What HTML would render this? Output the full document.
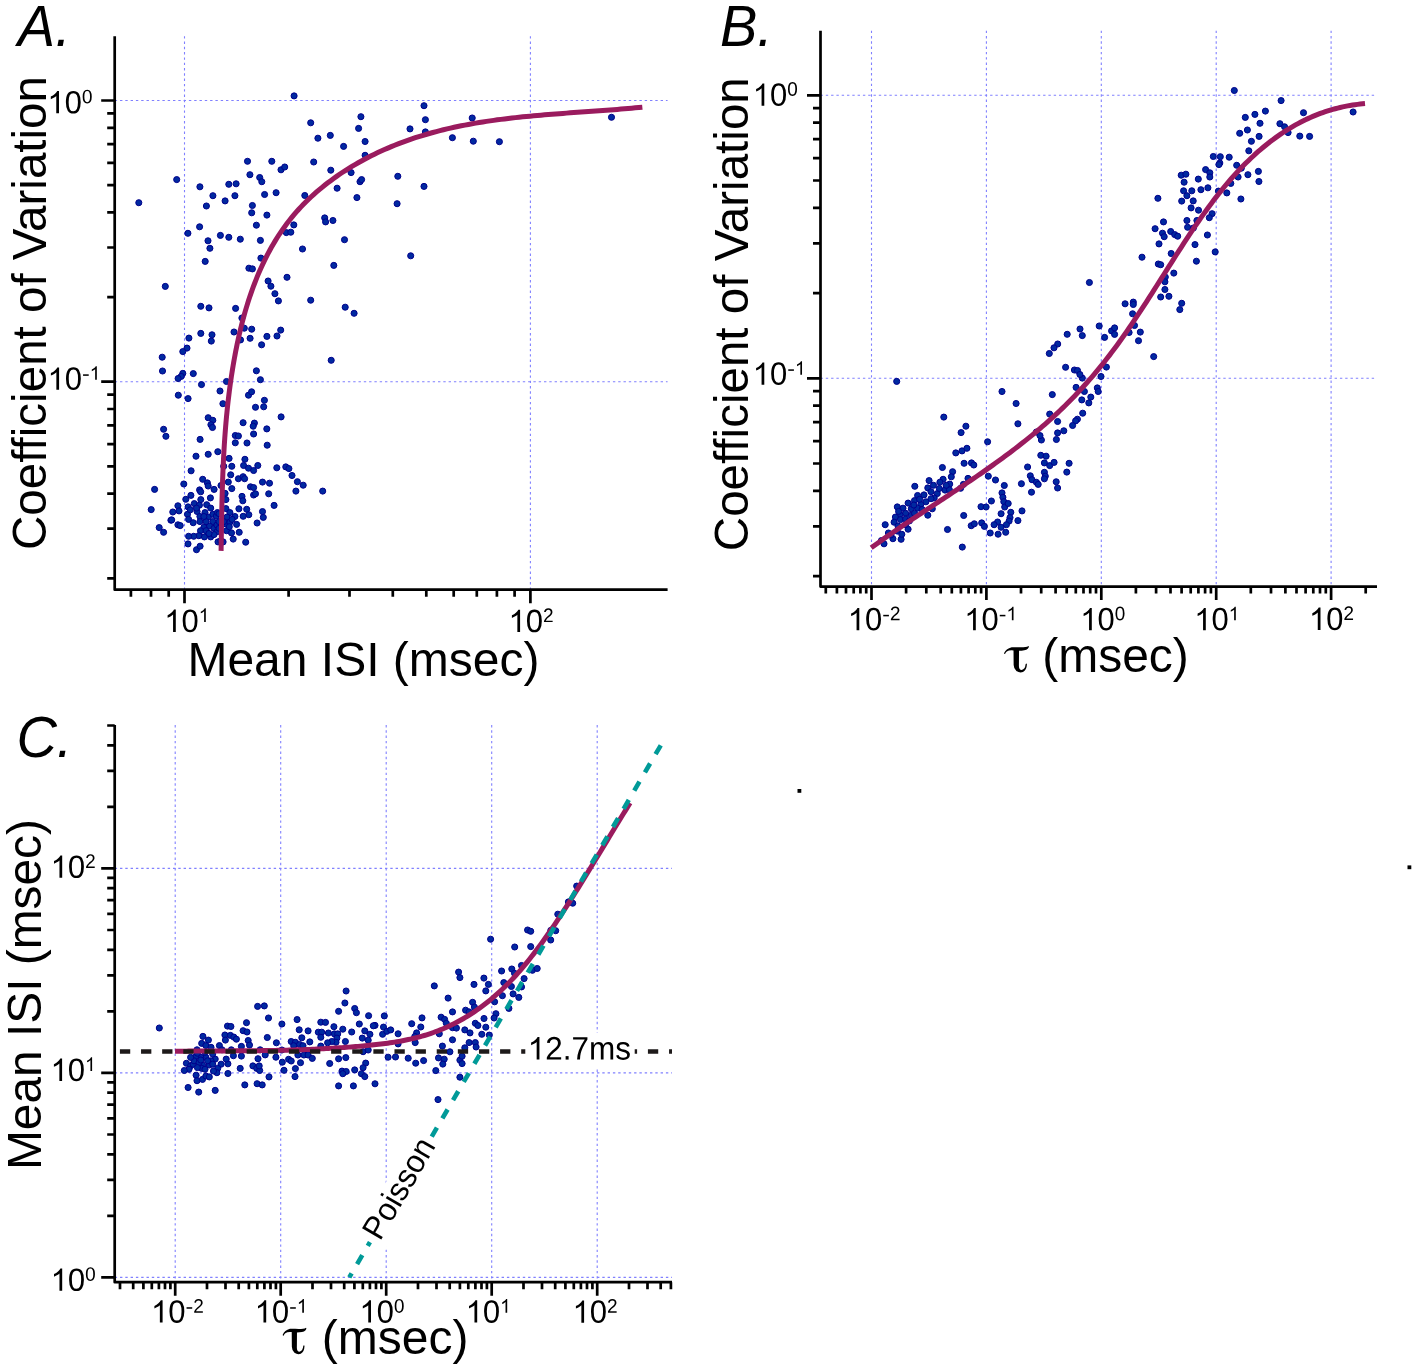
<!DOCTYPE html><html><head><meta charset="utf-8"><style>html,body{margin:0;padding:0;background:#fff;}svg{display:block}text{font-family:"Liberation Sans",sans-serif;fill:#000}svg{will-change:transform}</style></head><body>
<svg width="1417" height="1369" viewBox="0 0 1417 1369">
<rect width="1417" height="1369" fill="#fff"/>
<line x1="184.5" y1="36.2" x2="184.5" y2="589.7" stroke="#8080ff" stroke-width="1.1" stroke-dasharray="2.4 2.9"/>
<line x1="530.4" y1="36.2" x2="530.4" y2="589.7" stroke="#8080ff" stroke-width="1.1" stroke-dasharray="2.4 2.9"/>
<line x1="114.7" y1="100.5" x2="667.6" y2="100.5" stroke="#8080ff" stroke-width="1.1" stroke-dasharray="2.4 2.9"/>
<line x1="114.7" y1="381.7" x2="667.6" y2="381.7" stroke="#8080ff" stroke-width="1.1" stroke-dasharray="2.4 2.9"/>
<line x1="871.5" y1="30.7" x2="871.5" y2="586.6" stroke="#8080ff" stroke-width="1.1" stroke-dasharray="2.4 2.9"/>
<line x1="986.4" y1="30.7" x2="986.4" y2="586.6" stroke="#8080ff" stroke-width="1.1" stroke-dasharray="2.4 2.9"/>
<line x1="1101.3" y1="30.7" x2="1101.3" y2="586.6" stroke="#8080ff" stroke-width="1.1" stroke-dasharray="2.4 2.9"/>
<line x1="1216.2" y1="30.7" x2="1216.2" y2="586.6" stroke="#8080ff" stroke-width="1.1" stroke-dasharray="2.4 2.9"/>
<line x1="1331.1" y1="30.7" x2="1331.1" y2="586.6" stroke="#8080ff" stroke-width="1.1" stroke-dasharray="2.4 2.9"/>
<line x1="820.5" y1="95.3" x2="1377.0" y2="95.3" stroke="#8080ff" stroke-width="1.1" stroke-dasharray="2.4 2.9"/>
<line x1="820.5" y1="378.3" x2="1377.0" y2="378.3" stroke="#8080ff" stroke-width="1.1" stroke-dasharray="2.4 2.9"/>
<line x1="175.2" y1="725.0" x2="175.2" y2="1282.2" stroke="#8080ff" stroke-width="1.1" stroke-dasharray="2.4 2.9"/>
<line x1="280.7" y1="725.0" x2="280.7" y2="1282.2" stroke="#8080ff" stroke-width="1.1" stroke-dasharray="2.4 2.9"/>
<line x1="386.2" y1="725.0" x2="386.2" y2="1282.2" stroke="#8080ff" stroke-width="1.1" stroke-dasharray="2.4 2.9"/>
<line x1="491.7" y1="725.0" x2="491.7" y2="1282.2" stroke="#8080ff" stroke-width="1.1" stroke-dasharray="2.4 2.9"/>
<line x1="597.2" y1="725.0" x2="597.2" y2="1282.2" stroke="#8080ff" stroke-width="1.1" stroke-dasharray="2.4 2.9"/>
<line x1="114.7" y1="1277.4" x2="672.0" y2="1277.4" stroke="#8080ff" stroke-width="1.1" stroke-dasharray="2.4 2.9"/>
<line x1="114.7" y1="1072.9" x2="672.0" y2="1072.9" stroke="#8080ff" stroke-width="1.1" stroke-dasharray="2.4 2.9"/>
<line x1="114.7" y1="868.4" x2="672.0" y2="868.4" stroke="#8080ff" stroke-width="1.1" stroke-dasharray="2.4 2.9"/>
<g fill="#0029a0" stroke="#00008c" stroke-width="1.0">
<circle cx="294.1" cy="95.9" r="3.05"/>
<circle cx="424.0" cy="105.7" r="3.05"/>
<circle cx="425.4" cy="119.7" r="3.05"/>
<circle cx="360.9" cy="116.7" r="3.05"/>
<circle cx="310.7" cy="122.8" r="3.05"/>
<circle cx="358.6" cy="128.4" r="3.05"/>
<circle cx="410.0" cy="128.9" r="3.05"/>
<circle cx="425.4" cy="131.9" r="3.05"/>
<circle cx="317.9" cy="138.2" r="3.05"/>
<circle cx="330.3" cy="135.4" r="3.05"/>
<circle cx="343.6" cy="146.4" r="3.05"/>
<circle cx="365.1" cy="141.5" r="3.05"/>
<circle cx="365.1" cy="155.3" r="3.05"/>
<circle cx="247.5" cy="161.3" r="3.05"/>
<circle cx="271.8" cy="161.3" r="3.05"/>
<circle cx="281.0" cy="169.8" r="3.05"/>
<circle cx="284.7" cy="167.0" r="3.05"/>
<circle cx="313.7" cy="162.0" r="3.05"/>
<circle cx="330.8" cy="170.2" r="3.05"/>
<circle cx="351.1" cy="172.6" r="3.05"/>
<circle cx="397.8" cy="176.3" r="3.05"/>
<circle cx="176.7" cy="179.6" r="3.05"/>
<circle cx="249.9" cy="174.7" r="3.05"/>
<circle cx="259.7" cy="177.5" r="3.05"/>
<circle cx="261.8" cy="181.7" r="3.05"/>
<circle cx="360.0" cy="181.7" r="3.05"/>
<circle cx="361.6" cy="179.6" r="3.05"/>
<circle cx="424.0" cy="186.4" r="3.05"/>
<circle cx="199.9" cy="186.8" r="3.05"/>
<circle cx="228.8" cy="184.3" r="3.05"/>
<circle cx="236.1" cy="183.8" r="3.05"/>
<circle cx="212.9" cy="195.7" r="3.05"/>
<circle cx="234.9" cy="195.7" r="3.05"/>
<circle cx="225.1" cy="200.9" r="3.05"/>
<circle cx="264.6" cy="194.5" r="3.05"/>
<circle cx="276.1" cy="192.7" r="3.05"/>
<circle cx="304.8" cy="195.5" r="3.05"/>
<circle cx="337.1" cy="188.2" r="3.05"/>
<circle cx="356.9" cy="197.6" r="3.05"/>
<circle cx="397.1" cy="203.7" r="3.05"/>
<circle cx="138.8" cy="202.7" r="3.05"/>
<circle cx="206.4" cy="206.0" r="3.05"/>
<circle cx="252.4" cy="205.5" r="3.05"/>
<circle cx="251.7" cy="212.8" r="3.05"/>
<circle cx="266.9" cy="215.1" r="3.05"/>
<circle cx="324.7" cy="217.9" r="3.05"/>
<circle cx="325.6" cy="221.9" r="3.05"/>
<circle cx="332.9" cy="220.5" r="3.05"/>
<circle cx="256.4" cy="225.2" r="3.05"/>
<circle cx="293.8" cy="224.9" r="3.05"/>
<circle cx="286.3" cy="232.6" r="3.05"/>
<circle cx="290.8" cy="232.2" r="3.05"/>
<circle cx="187.9" cy="233.3" r="3.05"/>
<circle cx="199.6" cy="226.8" r="3.05"/>
<circle cx="220.4" cy="235.4" r="3.05"/>
<circle cx="228.8" cy="237.3" r="3.05"/>
<circle cx="240.3" cy="239.2" r="3.05"/>
<circle cx="208.0" cy="240.8" r="3.05"/>
<circle cx="260.4" cy="240.4" r="3.05"/>
<circle cx="344.5" cy="239.7" r="3.05"/>
<circle cx="209.9" cy="248.3" r="3.05"/>
<circle cx="302.5" cy="249.0" r="3.05"/>
<circle cx="410.7" cy="255.8" r="3.05"/>
<circle cx="205.2" cy="261.4" r="3.05"/>
<circle cx="260.9" cy="258.1" r="3.05"/>
<circle cx="248.9" cy="268.2" r="3.05"/>
<circle cx="252.4" cy="268.9" r="3.05"/>
<circle cx="333.8" cy="265.4" r="3.05"/>
<circle cx="287.0" cy="277.3" r="3.05"/>
<circle cx="165.3" cy="286.4" r="3.05"/>
<circle cx="268.1" cy="281.0" r="3.05"/>
<circle cx="270.9" cy="286.2" r="3.05"/>
<circle cx="274.9" cy="293.7" r="3.05"/>
<circle cx="278.4" cy="300.9" r="3.05"/>
<circle cx="310.7" cy="300.2" r="3.05"/>
<circle cx="345.2" cy="307.2" r="3.05"/>
<circle cx="354.1" cy="313.3" r="3.05"/>
<circle cx="200.8" cy="306.3" r="3.05"/>
<circle cx="209.0" cy="307.9" r="3.05"/>
<circle cx="235.6" cy="308.4" r="3.05"/>
<circle cx="241.9" cy="318.0" r="3.05"/>
<circle cx="244.3" cy="328.2" r="3.05"/>
<circle cx="251.7" cy="329.2" r="3.05"/>
<circle cx="234.0" cy="332.0" r="3.05"/>
<circle cx="240.5" cy="339.9" r="3.05"/>
<circle cx="250.1" cy="338.3" r="3.05"/>
<circle cx="200.8" cy="333.4" r="3.05"/>
<circle cx="212.0" cy="334.8" r="3.05"/>
<circle cx="211.3" cy="341.1" r="3.05"/>
<circle cx="188.9" cy="338.1" r="3.05"/>
<circle cx="187.0" cy="348.1" r="3.05"/>
<circle cx="182.8" cy="351.6" r="3.05"/>
<circle cx="266.9" cy="336.4" r="3.05"/>
<circle cx="277.0" cy="336.0" r="3.05"/>
<circle cx="280.7" cy="330.1" r="3.05"/>
<circle cx="261.6" cy="344.8" r="3.05"/>
<circle cx="331.2" cy="360.3" r="3.05"/>
<circle cx="162.2" cy="357.2" r="3.05"/>
<circle cx="162.5" cy="371.0" r="3.05"/>
<circle cx="182.8" cy="373.4" r="3.05"/>
<circle cx="181.2" cy="376.4" r="3.05"/>
<circle cx="178.1" cy="378.5" r="3.05"/>
<circle cx="193.3" cy="373.6" r="3.05"/>
<circle cx="256.4" cy="370.8" r="3.05"/>
<circle cx="260.4" cy="379.7" r="3.05"/>
<circle cx="472.2" cy="118.0" r="3.05"/>
<circle cx="452.4" cy="137.7" r="3.05"/>
<circle cx="473.3" cy="141.2" r="3.05"/>
<circle cx="499.4" cy="141.7" r="3.05"/>
<circle cx="611.5" cy="117.3" r="3.05"/>
<circle cx="226.5" cy="381.5" r="3.05"/>
<circle cx="201.5" cy="384.6" r="3.05"/>
<circle cx="178.3" cy="395.2" r="3.05"/>
<circle cx="188.1" cy="398.6" r="3.05"/>
<circle cx="220.0" cy="391.0" r="3.05"/>
<circle cx="222.9" cy="403.7" r="3.05"/>
<circle cx="248.5" cy="395.2" r="3.05"/>
<circle cx="251.6" cy="391.8" r="3.05"/>
<circle cx="264.4" cy="400.3" r="3.05"/>
<circle cx="263.7" cy="406.8" r="3.05"/>
<circle cx="255.5" cy="407.3" r="3.05"/>
<circle cx="281.1" cy="416.9" r="3.05"/>
<circle cx="208.2" cy="417.7" r="3.05"/>
<circle cx="212.8" cy="420.3" r="3.05"/>
<circle cx="210.9" cy="424.7" r="3.05"/>
<circle cx="212.5" cy="427.5" r="3.05"/>
<circle cx="243.1" cy="422.7" r="3.05"/>
<circle cx="254.4" cy="423.1" r="3.05"/>
<circle cx="253.2" cy="426.2" r="3.05"/>
<circle cx="266.8" cy="428.9" r="3.05"/>
<circle cx="253.6" cy="434.0" r="3.05"/>
<circle cx="163.6" cy="429.3" r="3.05"/>
<circle cx="165.9" cy="436.3" r="3.05"/>
<circle cx="200.1" cy="439.4" r="3.05"/>
<circle cx="235.3" cy="435.5" r="3.05"/>
<circle cx="238.4" cy="436.0" r="3.05"/>
<circle cx="235.3" cy="442.8" r="3.05"/>
<circle cx="247.0" cy="443.0" r="3.05"/>
<circle cx="267.2" cy="445.2" r="3.05"/>
<circle cx="217.8" cy="451.7" r="3.05"/>
<circle cx="208.2" cy="454.3" r="3.05"/>
<circle cx="196.0" cy="456.2" r="3.05"/>
<circle cx="229.1" cy="458.4" r="3.05"/>
<circle cx="244.9" cy="459.3" r="3.05"/>
<circle cx="223.7" cy="466.3" r="3.05"/>
<circle cx="231.8" cy="466.3" r="3.05"/>
<circle cx="243.6" cy="465.5" r="3.05"/>
<circle cx="248.5" cy="468.2" r="3.05"/>
<circle cx="253.6" cy="470.5" r="3.05"/>
<circle cx="257.8" cy="465.5" r="3.05"/>
<circle cx="276.8" cy="467.8" r="3.05"/>
<circle cx="285.8" cy="466.9" r="3.05"/>
<circle cx="288.9" cy="468.6" r="3.05"/>
<circle cx="292.0" cy="475.5" r="3.05"/>
<circle cx="297.4" cy="481.7" r="3.05"/>
<circle cx="303.2" cy="485.2" r="3.05"/>
<circle cx="295.9" cy="491.1" r="3.05"/>
<circle cx="322.7" cy="491.1" r="3.05"/>
<circle cx="191.1" cy="470.8" r="3.05"/>
<circle cx="230.7" cy="474.8" r="3.05"/>
<circle cx="238.4" cy="478.7" r="3.05"/>
<circle cx="243.1" cy="476.7" r="3.05"/>
<circle cx="244.6" cy="478.7" r="3.05"/>
<circle cx="228.3" cy="482.1" r="3.05"/>
<circle cx="202.7" cy="479.3" r="3.05"/>
<circle cx="207.4" cy="482.9" r="3.05"/>
<circle cx="208.2" cy="486.0" r="3.05"/>
<circle cx="214.1" cy="489.4" r="3.05"/>
<circle cx="183.8" cy="484.0" r="3.05"/>
<circle cx="231.8" cy="488.6" r="3.05"/>
<circle cx="250.5" cy="486.8" r="3.05"/>
<circle cx="253.6" cy="487.6" r="3.05"/>
<circle cx="262.5" cy="482.1" r="3.05"/>
<circle cx="269.5" cy="483.2" r="3.05"/>
<circle cx="268.7" cy="493.8" r="3.05"/>
<circle cx="253.6" cy="495.0" r="3.05"/>
<circle cx="255.5" cy="493.8" r="3.05"/>
<circle cx="242.0" cy="496.4" r="3.05"/>
<circle cx="242.8" cy="500.8" r="3.05"/>
<circle cx="154.6" cy="489.4" r="3.05"/>
<circle cx="199.6" cy="489.9" r="3.05"/>
<circle cx="200.7" cy="491.8" r="3.05"/>
<circle cx="221.0" cy="485.5" r="3.05"/>
<circle cx="274.1" cy="505.4" r="3.05"/>
<circle cx="238.9" cy="508.8" r="3.05"/>
<circle cx="246.7" cy="509.3" r="3.05"/>
<circle cx="248.8" cy="514.7" r="3.05"/>
<circle cx="243.2" cy="516.3" r="3.05"/>
<circle cx="262.5" cy="511.6" r="3.05"/>
<circle cx="263.3" cy="517.4" r="3.05"/>
<circle cx="257.1" cy="523.0" r="3.05"/>
<circle cx="245.7" cy="542.2" r="3.05"/>
<circle cx="239.2" cy="532.3" r="3.05"/>
<circle cx="151.2" cy="509.6" r="3.05"/>
<circle cx="170.9" cy="520.2" r="3.05"/>
<circle cx="159.2" cy="527.6" r="3.05"/>
<circle cx="163.6" cy="532.3" r="3.05"/>
<circle cx="177.9" cy="524.8" r="3.05"/>
<circle cx="180.2" cy="525.6" r="3.05"/>
<circle cx="188.0" cy="543.9" r="3.05"/>
<circle cx="196.5" cy="549.7" r="3.05"/>
<circle cx="200.1" cy="546.2" r="3.05"/>
<circle cx="190.9" cy="495.4" r="3.05"/>
<circle cx="185.8" cy="499.3" r="3.05"/>
<circle cx="200.8" cy="499.6" r="3.05"/>
<circle cx="210.4" cy="497.9" r="3.05"/>
<circle cx="225.1" cy="493.4" r="3.05"/>
<circle cx="225.9" cy="499.6" r="3.05"/>
<circle cx="177.9" cy="505.8" r="3.05"/>
<circle cx="179.0" cy="510.9" r="3.05"/>
<circle cx="172.8" cy="512.0" r="3.05"/>
<circle cx="171.7" cy="519.9" r="3.05"/>
<circle cx="188.1" cy="506.9" r="3.05"/>
<circle cx="194.3" cy="503.6" r="3.05"/>
<circle cx="199.4" cy="505.2" r="3.05"/>
<circle cx="206.7" cy="504.7" r="3.05"/>
<circle cx="210.7" cy="508.1" r="3.05"/>
<circle cx="187.5" cy="514.3" r="3.05"/>
<circle cx="188.6" cy="519.4" r="3.05"/>
<circle cx="193.2" cy="522.7" r="3.05"/>
<circle cx="197.1" cy="511.5" r="3.05"/>
<circle cx="199.9" cy="516.5" r="3.05"/>
<circle cx="199.9" cy="521.6" r="3.05"/>
<circle cx="205.0" cy="512.6" r="3.05"/>
<circle cx="208.4" cy="517.1" r="3.05"/>
<circle cx="212.9" cy="514.3" r="3.05"/>
<circle cx="216.3" cy="516.0" r="3.05"/>
<circle cx="217.4" cy="512.6" r="3.05"/>
<circle cx="212.9" cy="521.6" r="3.05"/>
<circle cx="209.5" cy="526.1" r="3.05"/>
<circle cx="203.9" cy="527.3" r="3.05"/>
<circle cx="200.5" cy="530.7" r="3.05"/>
<circle cx="206.1" cy="530.7" r="3.05"/>
<circle cx="214.0" cy="528.4" r="3.05"/>
<circle cx="216.9" cy="525.0" r="3.05"/>
<circle cx="216.9" cy="531.8" r="3.05"/>
<circle cx="210.7" cy="536.9" r="3.05"/>
<circle cx="204.4" cy="536.9" r="3.05"/>
<circle cx="198.8" cy="535.7" r="3.05"/>
<circle cx="193.7" cy="536.3" r="3.05"/>
<circle cx="188.6" cy="536.3" r="3.05"/>
<circle cx="218.0" cy="541.9" r="3.05"/>
<circle cx="223.1" cy="541.9" r="3.05"/>
<circle cx="225.9" cy="508.6" r="3.05"/>
<circle cx="229.9" cy="512.6" r="3.05"/>
<circle cx="234.9" cy="516.5" r="3.05"/>
<circle cx="227.0" cy="517.1" r="3.05"/>
<circle cx="225.9" cy="523.9" r="3.05"/>
<circle cx="236.6" cy="524.4" r="3.05"/>
<circle cx="229.9" cy="522.2" r="3.05"/>
<circle cx="226.5" cy="530.7" r="3.05"/>
<circle cx="231.5" cy="532.9" r="3.05"/>
<circle cx="233.2" cy="539.1" r="3.05"/>
<circle cx="219.1" cy="513.7" r="3.05"/>
<circle cx="219.1" cy="521.6" r="3.05"/>
<circle cx="219.1" cy="528.4" r="3.05"/>
<circle cx="220.8" cy="540.8" r="3.05"/>
<circle cx="190.3" cy="509.8" r="3.05"/>
<circle cx="206.1" cy="521.6" r="3.05"/>
<circle cx="203.9" cy="516.5" r="3.05"/>
<circle cx="232.1" cy="519.4" r="3.05"/>
<circle cx="229.3" cy="526.7" r="3.05"/>
<circle cx="214.0" cy="534.6" r="3.05"/>
<circle cx="209.0" cy="533.5" r="3.05"/>
<circle cx="196.5" cy="508.1" r="3.05"/>
<circle cx="223.6" cy="521.6" r="3.05"/>
<circle cx="1234.3" cy="90.5" r="3.05"/>
<circle cx="1281.1" cy="100.6" r="3.05"/>
<circle cx="1265.4" cy="111.1" r="3.05"/>
<circle cx="1254.9" cy="114.4" r="3.05"/>
<circle cx="1245.3" cy="117.4" r="3.05"/>
<circle cx="1260.0" cy="123.3" r="3.05"/>
<circle cx="1303.5" cy="112.7" r="3.05"/>
<circle cx="1353.1" cy="112.0" r="3.05"/>
<circle cx="1279.9" cy="123.7" r="3.05"/>
<circle cx="1284.6" cy="126.8" r="3.05"/>
<circle cx="1288.1" cy="132.6" r="3.05"/>
<circle cx="1299.8" cy="136.1" r="3.05"/>
<circle cx="1309.6" cy="136.4" r="3.05"/>
<circle cx="1247.4" cy="130.0" r="3.05"/>
<circle cx="1239.7" cy="133.3" r="3.05"/>
<circle cx="1259.1" cy="136.4" r="3.05"/>
<circle cx="1251.4" cy="141.3" r="3.05"/>
<circle cx="1248.8" cy="150.8" r="3.05"/>
<circle cx="1213.3" cy="156.5" r="3.05"/>
<circle cx="1220.3" cy="156.7" r="3.05"/>
<circle cx="1229.2" cy="157.2" r="3.05"/>
<circle cx="1219.8" cy="163.0" r="3.05"/>
<circle cx="1218.9" cy="164.6" r="3.05"/>
<circle cx="1236.7" cy="165.3" r="3.05"/>
<circle cx="1241.3" cy="168.2" r="3.05"/>
<circle cx="1258.4" cy="171.4" r="3.05"/>
<circle cx="1247.9" cy="174.7" r="3.05"/>
<circle cx="1258.9" cy="181.5" r="3.05"/>
<circle cx="1238.1" cy="177.0" r="3.05"/>
<circle cx="1205.6" cy="169.6" r="3.05"/>
<circle cx="1209.8" cy="172.8" r="3.05"/>
<circle cx="1209.8" cy="177.0" r="3.05"/>
<circle cx="1181.2" cy="175.2" r="3.05"/>
<circle cx="1185.9" cy="174.2" r="3.05"/>
<circle cx="1184.1" cy="182.2" r="3.05"/>
<circle cx="1198.3" cy="179.1" r="3.05"/>
<circle cx="1207.9" cy="187.8" r="3.05"/>
<circle cx="1200.9" cy="189.7" r="3.05"/>
<circle cx="1191.8" cy="190.8" r="3.05"/>
<circle cx="1183.6" cy="190.8" r="3.05"/>
<circle cx="1186.9" cy="195.7" r="3.05"/>
<circle cx="1181.7" cy="201.1" r="3.05"/>
<circle cx="1193.2" cy="200.9" r="3.05"/>
<circle cx="1157.9" cy="198.3" r="3.05"/>
<circle cx="1218.4" cy="191.1" r="3.05"/>
<circle cx="1226.8" cy="192.9" r="3.05"/>
<circle cx="1230.8" cy="183.4" r="3.05"/>
<circle cx="1240.9" cy="199.0" r="3.05"/>
<circle cx="1191.1" cy="207.9" r="3.05"/>
<circle cx="1198.5" cy="210.2" r="3.05"/>
<circle cx="1212.1" cy="213.7" r="3.05"/>
<circle cx="1209.3" cy="217.7" r="3.05"/>
<circle cx="1186.9" cy="220.5" r="3.05"/>
<circle cx="1196.9" cy="220.5" r="3.05"/>
<circle cx="1187.6" cy="227.3" r="3.05"/>
<circle cx="1193.4" cy="228.0" r="3.05"/>
<circle cx="1163.5" cy="221.9" r="3.05"/>
<circle cx="1155.1" cy="228.7" r="3.05"/>
<circle cx="1162.5" cy="233.2" r="3.05"/>
<circle cx="1164.2" cy="236.7" r="3.05"/>
<circle cx="1170.7" cy="231.5" r="3.05"/>
<circle cx="1174.7" cy="234.6" r="3.05"/>
<circle cx="1177.7" cy="236.2" r="3.05"/>
<circle cx="1207.4" cy="235.0" r="3.05"/>
<circle cx="1159.0" cy="243.9" r="3.05"/>
<circle cx="1195.0" cy="244.6" r="3.05"/>
<circle cx="1215.2" cy="251.9" r="3.05"/>
<circle cx="1142.0" cy="257.2" r="3.05"/>
<circle cx="1171.2" cy="253.5" r="3.05"/>
<circle cx="1196.4" cy="261.2" r="3.05"/>
<circle cx="1158.3" cy="264.0" r="3.05"/>
<circle cx="1160.7" cy="264.7" r="3.05"/>
<circle cx="1173.8" cy="273.1" r="3.05"/>
<circle cx="1165.3" cy="277.1" r="3.05"/>
<circle cx="1164.9" cy="281.8" r="3.05"/>
<circle cx="1164.9" cy="289.5" r="3.05"/>
<circle cx="1160.7" cy="297.0" r="3.05"/>
<circle cx="1168.9" cy="296.3" r="3.05"/>
<circle cx="1181.7" cy="303.3" r="3.05"/>
<circle cx="1179.8" cy="309.6" r="3.05"/>
<circle cx="1089.4" cy="282.5" r="3.05"/>
<circle cx="1125.1" cy="303.8" r="3.05"/>
<circle cx="1133.3" cy="302.1" r="3.05"/>
<circle cx="1133.3" cy="304.5" r="3.05"/>
<circle cx="1132.6" cy="313.8" r="3.05"/>
<circle cx="1134.5" cy="325.5" r="3.05"/>
<circle cx="1140.3" cy="332.1" r="3.05"/>
<circle cx="1138.5" cy="340.7" r="3.05"/>
<circle cx="1129.1" cy="332.5" r="3.05"/>
<circle cx="1099.2" cy="326.0" r="3.05"/>
<circle cx="1111.6" cy="330.9" r="3.05"/>
<circle cx="1114.6" cy="327.9" r="3.05"/>
<circle cx="1114.6" cy="334.4" r="3.05"/>
<circle cx="1104.6" cy="337.4" r="3.05"/>
<circle cx="1153.7" cy="356.6" r="3.05"/>
<circle cx="1080.0" cy="329.0" r="3.05"/>
<circle cx="1082.3" cy="335.6" r="3.05"/>
<circle cx="1106.4" cy="367.1" r="3.05"/>
<circle cx="1101.0" cy="376.5" r="3.05"/>
<circle cx="1082.3" cy="378.1" r="3.05"/>
<circle cx="896.7" cy="381.4" r="3.05"/>
<circle cx="1002.0" cy="391.5" r="3.05"/>
<circle cx="1016.1" cy="403.5" r="3.05"/>
<circle cx="1017.9" cy="423.8" r="3.05"/>
<circle cx="1052.3" cy="394.6" r="3.05"/>
<circle cx="1076.1" cy="387.4" r="3.05"/>
<circle cx="1084.4" cy="391.5" r="3.05"/>
<circle cx="1097.3" cy="387.9" r="3.05"/>
<circle cx="1098.2" cy="391.5" r="3.05"/>
<circle cx="1090.8" cy="397.1" r="3.05"/>
<circle cx="1081.8" cy="399.9" r="3.05"/>
<circle cx="1088.8" cy="402.9" r="3.05"/>
<circle cx="1082.7" cy="413.2" r="3.05"/>
<circle cx="1049.7" cy="414.1" r="3.05"/>
<circle cx="1057.6" cy="421.5" r="3.05"/>
<circle cx="1077.4" cy="419.2" r="3.05"/>
<circle cx="1075.6" cy="420.9" r="3.05"/>
<circle cx="1072.6" cy="425.5" r="3.05"/>
<circle cx="1063.8" cy="430.8" r="3.05"/>
<circle cx="1057.6" cy="432.9" r="3.05"/>
<circle cx="1056.4" cy="439.5" r="3.05"/>
<circle cx="1036.4" cy="432.0" r="3.05"/>
<circle cx="1041.4" cy="440.0" r="3.05"/>
<circle cx="1040.0" cy="435.6" r="3.05"/>
<circle cx="987.6" cy="441.8" r="3.05"/>
<circle cx="943.8" cy="417.1" r="3.05"/>
<circle cx="965.9" cy="426.2" r="3.05"/>
<circle cx="961.1" cy="432.6" r="3.05"/>
<circle cx="955.8" cy="452.9" r="3.05"/>
<circle cx="962.0" cy="450.9" r="3.05"/>
<circle cx="966.9" cy="448.3" r="3.05"/>
<circle cx="964.1" cy="463.3" r="3.05"/>
<circle cx="971.5" cy="462.9" r="3.05"/>
<circle cx="973.8" cy="465.0" r="3.05"/>
<circle cx="968.0" cy="478.4" r="3.05"/>
<circle cx="963.4" cy="484.4" r="3.05"/>
<circle cx="960.6" cy="488.3" r="3.05"/>
<circle cx="963.7" cy="515.5" r="3.05"/>
<circle cx="962.3" cy="547.1" r="3.05"/>
<circle cx="971.2" cy="525.7" r="3.05"/>
<circle cx="974.3" cy="523.8" r="3.05"/>
<circle cx="981.7" cy="522.9" r="3.05"/>
<circle cx="984.4" cy="526.4" r="3.05"/>
<circle cx="981.0" cy="506.7" r="3.05"/>
<circle cx="986.1" cy="507.0" r="3.05"/>
<circle cx="988.3" cy="476.2" r="3.05"/>
<circle cx="995.5" cy="480.0" r="3.05"/>
<circle cx="1004.3" cy="485.5" r="3.05"/>
<circle cx="991.4" cy="501.0" r="3.05"/>
<circle cx="1002.0" cy="492.9" r="3.05"/>
<circle cx="1002.9" cy="497.3" r="3.05"/>
<circle cx="1003.8" cy="501.7" r="3.05"/>
<circle cx="1004.7" cy="507.0" r="3.05"/>
<circle cx="1008.2" cy="503.5" r="3.05"/>
<circle cx="1001.1" cy="513.7" r="3.05"/>
<circle cx="1010.8" cy="512.3" r="3.05"/>
<circle cx="1010.0" cy="517.6" r="3.05"/>
<circle cx="1009.1" cy="521.1" r="3.05"/>
<circle cx="1006.4" cy="524.7" r="3.05"/>
<circle cx="997.6" cy="522.0" r="3.05"/>
<circle cx="994.1" cy="524.7" r="3.05"/>
<circle cx="1017.9" cy="520.6" r="3.05"/>
<circle cx="1022.0" cy="510.9" r="3.05"/>
<circle cx="990.2" cy="533.0" r="3.05"/>
<circle cx="998.1" cy="534.2" r="3.05"/>
<circle cx="1005.7" cy="532.3" r="3.05"/>
<circle cx="1001.1" cy="527.3" r="3.05"/>
<circle cx="1021.4" cy="483.7" r="3.05"/>
<circle cx="1027.6" cy="467.0" r="3.05"/>
<circle cx="1030.3" cy="475.8" r="3.05"/>
<circle cx="1032.0" cy="479.7" r="3.05"/>
<circle cx="1036.4" cy="482.3" r="3.05"/>
<circle cx="1038.2" cy="484.4" r="3.05"/>
<circle cx="1031.5" cy="492.2" r="3.05"/>
<circle cx="1040.8" cy="455.3" r="3.05"/>
<circle cx="1046.1" cy="456.2" r="3.05"/>
<circle cx="1044.4" cy="462.9" r="3.05"/>
<circle cx="1049.7" cy="465.6" r="3.05"/>
<circle cx="1054.1" cy="462.4" r="3.05"/>
<circle cx="1044.4" cy="472.3" r="3.05"/>
<circle cx="1045.3" cy="476.2" r="3.05"/>
<circle cx="1044.4" cy="478.8" r="3.05"/>
<circle cx="1056.2" cy="481.8" r="3.05"/>
<circle cx="1057.6" cy="488.0" r="3.05"/>
<circle cx="1069.1" cy="463.3" r="3.05"/>
<circle cx="1066.8" cy="472.1" r="3.05"/>
<circle cx="942.4" cy="467.5" r="3.05"/>
<circle cx="952.6" cy="471.7" r="3.05"/>
<circle cx="951.3" cy="476.8" r="3.05"/>
<circle cx="943.1" cy="479.3" r="3.05"/>
<circle cx="939.9" cy="482.2" r="3.05"/>
<circle cx="929.1" cy="480.6" r="3.05"/>
<circle cx="949.7" cy="484.1" r="3.05"/>
<circle cx="945.0" cy="490.1" r="3.05"/>
<circle cx="949.4" cy="489.8" r="3.05"/>
<circle cx="933.5" cy="485.3" r="3.05"/>
<circle cx="927.8" cy="487.9" r="3.05"/>
<circle cx="937.3" cy="493.6" r="3.05"/>
<circle cx="934.2" cy="498.0" r="3.05"/>
<circle cx="931.0" cy="491.7" r="3.05"/>
<circle cx="914.8" cy="486.3" r="3.05"/>
<circle cx="917.6" cy="495.5" r="3.05"/>
<circle cx="924.0" cy="494.9" r="3.05"/>
<circle cx="925.9" cy="501.8" r="3.05"/>
<circle cx="920.8" cy="504.4" r="3.05"/>
<circle cx="914.5" cy="500.6" r="3.05"/>
<circle cx="908.1" cy="503.1" r="3.05"/>
<circle cx="897.3" cy="506.9" r="3.05"/>
<circle cx="903.0" cy="508.2" r="3.05"/>
<circle cx="911.3" cy="508.8" r="3.05"/>
<circle cx="917.6" cy="508.2" r="3.05"/>
<circle cx="905.6" cy="513.3" r="3.05"/>
<circle cx="911.3" cy="515.2" r="3.05"/>
<circle cx="899.9" cy="514.6" r="3.05"/>
<circle cx="895.4" cy="517.1" r="3.05"/>
<circle cx="894.1" cy="522.2" r="3.05"/>
<circle cx="900.5" cy="519.6" r="3.05"/>
<circle cx="905.6" cy="519.0" r="3.05"/>
<circle cx="914.5" cy="513.3" r="3.05"/>
<circle cx="932.3" cy="508.8" r="3.05"/>
<circle cx="927.8" cy="515.2" r="3.05"/>
<circle cx="885.2" cy="524.7" r="3.05"/>
<circle cx="898.0" cy="526.0" r="3.05"/>
<circle cx="908.1" cy="529.2" r="3.05"/>
<circle cx="897.3" cy="531.1" r="3.05"/>
<circle cx="888.4" cy="533.0" r="3.05"/>
<circle cx="892.9" cy="538.7" r="3.05"/>
<circle cx="901.1" cy="539.3" r="3.05"/>
<circle cx="901.8" cy="534.3" r="3.05"/>
<circle cx="881.4" cy="540.6" r="3.05"/>
<circle cx="884.0" cy="543.8" r="3.05"/>
<circle cx="947.5" cy="529.5" r="3.05"/>
<circle cx="891.0" cy="534.9" r="3.05"/>
<circle cx="905.6" cy="524.7" r="3.05"/>
<circle cx="919.6" cy="499.3" r="3.05"/>
<circle cx="913.8" cy="505.0" r="3.05"/>
<circle cx="931.0" cy="498.7" r="3.05"/>
<circle cx="939.3" cy="488.5" r="3.05"/>
<circle cx="946.2" cy="485.3" r="3.05"/>
<circle cx="898.6" cy="511.4" r="3.05"/>
<circle cx="922.1" cy="509.5" r="3.05"/>
<circle cx="909.4" cy="520.9" r="3.05"/>
<circle cx="1067.2" cy="334.3" r="3.05"/>
<circle cx="1057.7" cy="344.0" r="3.05"/>
<circle cx="1054.0" cy="347.8" r="3.05"/>
<circle cx="1049.3" cy="353.5" r="3.05"/>
<circle cx="1065.6" cy="367.3" r="3.05"/>
<circle cx="1074.4" cy="370.0" r="3.05"/>
<circle cx="1077.5" cy="370.5" r="3.05"/>
<circle cx="1079.9" cy="374.5" r="3.05"/>
<circle cx="159.3" cy="1028.0" r="3.05"/>
<circle cx="202.9" cy="1036.4" r="3.05"/>
<circle cx="208.4" cy="1040.1" r="3.05"/>
<circle cx="201.7" cy="1043.4" r="3.05"/>
<circle cx="205.9" cy="1045.6" r="3.05"/>
<circle cx="211.0" cy="1047.3" r="3.05"/>
<circle cx="219.4" cy="1045.6" r="3.05"/>
<circle cx="197.0" cy="1049.8" r="3.05"/>
<circle cx="224.9" cy="1035.0" r="3.05"/>
<circle cx="227.5" cy="1026.1" r="3.05"/>
<circle cx="230.9" cy="1026.5" r="3.05"/>
<circle cx="225.4" cy="1040.1" r="3.05"/>
<circle cx="230.4" cy="1035.4" r="3.05"/>
<circle cx="233.8" cy="1037.1" r="3.05"/>
<circle cx="236.4" cy="1039.2" r="3.05"/>
<circle cx="246.5" cy="1022.7" r="3.05"/>
<circle cx="243.1" cy="1030.7" r="3.05"/>
<circle cx="247.0" cy="1032.0" r="3.05"/>
<circle cx="248.2" cy="1040.5" r="3.05"/>
<circle cx="249.5" cy="1045.1" r="3.05"/>
<circle cx="241.4" cy="1046.4" r="3.05"/>
<circle cx="241.4" cy="1056.1" r="3.05"/>
<circle cx="233.4" cy="1055.7" r="3.05"/>
<circle cx="231.3" cy="1049.8" r="3.05"/>
<circle cx="268.5" cy="1018.0" r="3.05"/>
<circle cx="267.3" cy="1037.5" r="3.05"/>
<circle cx="260.1" cy="1049.8" r="3.05"/>
<circle cx="265.2" cy="1054.9" r="3.05"/>
<circle cx="258.0" cy="1058.7" r="3.05"/>
<circle cx="252.9" cy="1065.9" r="3.05"/>
<circle cx="256.7" cy="1068.4" r="3.05"/>
<circle cx="259.7" cy="1070.5" r="3.05"/>
<circle cx="259.2" cy="1065.9" r="3.05"/>
<circle cx="240.2" cy="1068.4" r="3.05"/>
<circle cx="269.0" cy="1076.9" r="3.05"/>
<circle cx="244.8" cy="1084.9" r="3.05"/>
<circle cx="257.1" cy="1083.7" r="3.05"/>
<circle cx="262.2" cy="1084.9" r="3.05"/>
<circle cx="227.9" cy="1073.5" r="3.05"/>
<circle cx="227.9" cy="1063.8" r="3.05"/>
<circle cx="226.2" cy="1059.1" r="3.05"/>
<circle cx="221.1" cy="1064.2" r="3.05"/>
<circle cx="217.7" cy="1068.4" r="3.05"/>
<circle cx="216.9" cy="1072.7" r="3.05"/>
<circle cx="213.5" cy="1071.0" r="3.05"/>
<circle cx="215.2" cy="1059.1" r="3.05"/>
<circle cx="211.0" cy="1060.8" r="3.05"/>
<circle cx="205.9" cy="1057.4" r="3.05"/>
<circle cx="200.8" cy="1057.4" r="3.05"/>
<circle cx="195.7" cy="1056.6" r="3.05"/>
<circle cx="202.5" cy="1065.0" r="3.05"/>
<circle cx="209.3" cy="1065.0" r="3.05"/>
<circle cx="201.7" cy="1068.4" r="3.05"/>
<circle cx="186.4" cy="1063.3" r="3.05"/>
<circle cx="190.6" cy="1065.9" r="3.05"/>
<circle cx="193.2" cy="1064.2" r="3.05"/>
<circle cx="189.0" cy="1069.3" r="3.05"/>
<circle cx="184.3" cy="1070.5" r="3.05"/>
<circle cx="196.1" cy="1075.2" r="3.05"/>
<circle cx="197.0" cy="1080.7" r="3.05"/>
<circle cx="202.5" cy="1079.4" r="3.05"/>
<circle cx="205.9" cy="1076.0" r="3.05"/>
<circle cx="209.3" cy="1076.9" r="3.05"/>
<circle cx="188.1" cy="1087.5" r="3.05"/>
<circle cx="198.7" cy="1092.1" r="3.05"/>
<circle cx="215.2" cy="1090.4" r="3.05"/>
<circle cx="197.4" cy="1053.2" r="3.05"/>
<circle cx="205.0" cy="1052.3" r="3.05"/>
<circle cx="212.7" cy="1054.0" r="3.05"/>
<circle cx="222.0" cy="1049.8" r="3.05"/>
<circle cx="194.0" cy="1060.8" r="3.05"/>
<circle cx="199.1" cy="1062.5" r="3.05"/>
<circle cx="207.6" cy="1060.8" r="3.05"/>
<circle cx="212.7" cy="1064.2" r="3.05"/>
<circle cx="197.4" cy="1067.6" r="3.05"/>
<circle cx="205.0" cy="1069.3" r="3.05"/>
<circle cx="200.8" cy="1060.0" r="3.05"/>
<circle cx="190.6" cy="1057.4" r="3.05"/>
<circle cx="281.9" cy="1024.0" r="3.05"/>
<circle cx="297.1" cy="1019.6" r="3.05"/>
<circle cx="344.9" cy="1003.0" r="3.05"/>
<circle cx="338.6" cy="1011.3" r="3.05"/>
<circle cx="354.7" cy="1008.5" r="3.05"/>
<circle cx="356.4" cy="1012.7" r="3.05"/>
<circle cx="368.6" cy="1015.7" r="3.05"/>
<circle cx="384.3" cy="1015.9" r="3.05"/>
<circle cx="299.2" cy="1029.8" r="3.05"/>
<circle cx="308.1" cy="1030.9" r="3.05"/>
<circle cx="301.8" cy="1037.8" r="3.05"/>
<circle cx="320.8" cy="1022.2" r="3.05"/>
<circle cx="325.5" cy="1022.4" r="3.05"/>
<circle cx="333.9" cy="1026.7" r="3.05"/>
<circle cx="342.8" cy="1029.2" r="3.05"/>
<circle cx="351.7" cy="1032.0" r="3.05"/>
<circle cx="359.3" cy="1024.0" r="3.05"/>
<circle cx="375.0" cy="1025.4" r="3.05"/>
<circle cx="373.3" cy="1025.8" r="3.05"/>
<circle cx="383.5" cy="1027.1" r="3.05"/>
<circle cx="382.6" cy="1034.3" r="3.05"/>
<circle cx="386.9" cy="1031.3" r="3.05"/>
<circle cx="364.8" cy="1030.9" r="3.05"/>
<circle cx="369.9" cy="1034.3" r="3.05"/>
<circle cx="362.3" cy="1038.1" r="3.05"/>
<circle cx="368.2" cy="1040.2" r="3.05"/>
<circle cx="318.3" cy="1032.2" r="3.05"/>
<circle cx="321.7" cy="1032.2" r="3.05"/>
<circle cx="320.8" cy="1037.3" r="3.05"/>
<circle cx="328.4" cy="1033.0" r="3.05"/>
<circle cx="334.4" cy="1033.9" r="3.05"/>
<circle cx="337.7" cy="1033.9" r="3.05"/>
<circle cx="336.9" cy="1038.1" r="3.05"/>
<circle cx="336.0" cy="1042.3" r="3.05"/>
<circle cx="331.8" cy="1041.5" r="3.05"/>
<circle cx="327.6" cy="1042.8" r="3.05"/>
<circle cx="345.4" cy="1041.5" r="3.05"/>
<circle cx="276.4" cy="1042.8" r="3.05"/>
<circle cx="291.2" cy="1041.5" r="3.05"/>
<circle cx="295.4" cy="1042.3" r="3.05"/>
<circle cx="299.6" cy="1044.5" r="3.05"/>
<circle cx="303.0" cy="1045.7" r="3.05"/>
<circle cx="293.7" cy="1045.7" r="3.05"/>
<circle cx="309.8" cy="1041.9" r="3.05"/>
<circle cx="320.8" cy="1046.1" r="3.05"/>
<circle cx="281.9" cy="1050.0" r="3.05"/>
<circle cx="275.9" cy="1057.2" r="3.05"/>
<circle cx="282.3" cy="1062.2" r="3.05"/>
<circle cx="288.6" cy="1059.3" r="3.05"/>
<circle cx="291.2" cy="1061.0" r="3.05"/>
<circle cx="297.9" cy="1055.0" r="3.05"/>
<circle cx="303.9" cy="1055.0" r="3.05"/>
<circle cx="308.1" cy="1055.0" r="3.05"/>
<circle cx="312.3" cy="1058.4" r="3.05"/>
<circle cx="300.5" cy="1062.7" r="3.05"/>
<circle cx="295.4" cy="1068.6" r="3.05"/>
<circle cx="284.0" cy="1070.3" r="3.05"/>
<circle cx="295.0" cy="1076.6" r="3.05"/>
<circle cx="329.7" cy="1063.5" r="3.05"/>
<circle cx="338.6" cy="1058.8" r="3.05"/>
<circle cx="345.8" cy="1057.6" r="3.05"/>
<circle cx="363.1" cy="1051.7" r="3.05"/>
<circle cx="368.2" cy="1050.0" r="3.05"/>
<circle cx="365.7" cy="1063.1" r="3.05"/>
<circle cx="363.1" cy="1067.7" r="3.05"/>
<circle cx="354.7" cy="1069.9" r="3.05"/>
<circle cx="342.0" cy="1071.1" r="3.05"/>
<circle cx="346.2" cy="1071.5" r="3.05"/>
<circle cx="342.8" cy="1073.7" r="3.05"/>
<circle cx="361.4" cy="1073.7" r="3.05"/>
<circle cx="364.8" cy="1076.6" r="3.05"/>
<circle cx="388.1" cy="1057.2" r="3.05"/>
<circle cx="338.6" cy="1085.9" r="3.05"/>
<circle cx="353.4" cy="1085.9" r="3.05"/>
<circle cx="375.0" cy="1083.8" r="3.05"/>
<circle cx="257.6" cy="1006.4" r="3.05"/>
<circle cx="264.3" cy="1005.9" r="3.05"/>
<circle cx="346.1" cy="991.0" r="3.05"/>
<circle cx="390.7" cy="1029.9" r="3.05"/>
<circle cx="398.1" cy="1033.8" r="3.05"/>
<circle cx="398.1" cy="1043.9" r="3.05"/>
<circle cx="395.5" cy="1057.0" r="3.05"/>
<circle cx="408.2" cy="1058.2" r="3.05"/>
<circle cx="415.7" cy="1063.2" r="3.05"/>
<circle cx="423.6" cy="1060.6" r="3.05"/>
<circle cx="411.7" cy="1023.7" r="3.05"/>
<circle cx="422.0" cy="1017.9" r="3.05"/>
<circle cx="420.8" cy="1027.0" r="3.05"/>
<circle cx="416.6" cy="1032.9" r="3.05"/>
<circle cx="414.8" cy="1036.5" r="3.05"/>
<circle cx="415.2" cy="1042.6" r="3.05"/>
<circle cx="448.1" cy="998.1" r="3.05"/>
<circle cx="452.5" cy="1011.9" r="3.05"/>
<circle cx="472.6" cy="1002.3" r="3.05"/>
<circle cx="465.6" cy="1010.2" r="3.05"/>
<circle cx="474.4" cy="1007.1" r="3.05"/>
<circle cx="469.1" cy="1011.9" r="3.05"/>
<circle cx="441.1" cy="1017.2" r="3.05"/>
<circle cx="444.6" cy="1019.4" r="3.05"/>
<circle cx="446.3" cy="1023.3" r="3.05"/>
<circle cx="439.3" cy="1033.8" r="3.05"/>
<circle cx="452.5" cy="1027.7" r="3.05"/>
<circle cx="456.4" cy="1028.1" r="3.05"/>
<circle cx="464.8" cy="1029.9" r="3.05"/>
<circle cx="470.0" cy="1032.9" r="3.05"/>
<circle cx="475.3" cy="1023.3" r="3.05"/>
<circle cx="477.9" cy="1025.5" r="3.05"/>
<circle cx="484.0" cy="1018.5" r="3.05"/>
<circle cx="485.8" cy="1027.2" r="3.05"/>
<circle cx="481.8" cy="1034.3" r="3.05"/>
<circle cx="489.3" cy="1035.1" r="3.05"/>
<circle cx="452.5" cy="1039.8" r="3.05"/>
<circle cx="469.1" cy="1042.6" r="3.05"/>
<circle cx="475.3" cy="1042.6" r="3.05"/>
<circle cx="476.1" cy="1047.0" r="3.05"/>
<circle cx="464.8" cy="1047.8" r="3.05"/>
<circle cx="442.4" cy="1046.1" r="3.05"/>
<circle cx="449.9" cy="1051.8" r="3.05"/>
<circle cx="438.5" cy="1057.9" r="3.05"/>
<circle cx="444.2" cy="1059.2" r="3.05"/>
<circle cx="442.8" cy="1064.1" r="3.05"/>
<circle cx="459.9" cy="1060.1" r="3.05"/>
<circle cx="462.1" cy="1063.6" r="3.05"/>
<circle cx="462.1" cy="1056.2" r="3.05"/>
<circle cx="435.8" cy="1070.6" r="3.05"/>
<circle cx="459.9" cy="1077.2" r="3.05"/>
<circle cx="438.0" cy="1099.6" r="3.05"/>
<circle cx="485.8" cy="990.9" r="3.05"/>
<circle cx="494.6" cy="1001.8" r="3.05"/>
<circle cx="495.9" cy="1013.7" r="3.05"/>
<circle cx="494.1" cy="1018.0" r="3.05"/>
<circle cx="502.4" cy="995.7" r="3.05"/>
<circle cx="490.6" cy="939.2" r="3.05"/>
<circle cx="458.6" cy="972.1" r="3.05"/>
<circle cx="459.9" cy="977.6" r="3.05"/>
<circle cx="434.3" cy="985.9" r="3.05"/>
<circle cx="474.0" cy="984.4" r="3.05"/>
<circle cx="483.9" cy="978.1" r="3.05"/>
<circle cx="488.4" cy="984.4" r="3.05"/>
<circle cx="501.6" cy="971.0" r="3.05"/>
<circle cx="503.8" cy="982.6" r="3.05"/>
<circle cx="576.7" cy="886.1" r="3.05"/>
<circle cx="568.4" cy="901.9" r="3.05"/>
<circle cx="572.7" cy="903.2" r="3.05"/>
<circle cx="557.8" cy="914.2" r="3.05"/>
<circle cx="550.8" cy="930.4" r="3.05"/>
<circle cx="555.7" cy="930.7" r="3.05"/>
<circle cx="550.7" cy="940.0" r="3.05"/>
<circle cx="527.6" cy="930.0" r="3.05"/>
<circle cx="530.7" cy="931.3" r="3.05"/>
<circle cx="514.7" cy="947.0" r="3.05"/>
<circle cx="530.7" cy="946.6" r="3.05"/>
<circle cx="521.5" cy="965.5" r="3.05"/>
<circle cx="511.8" cy="969.0" r="3.05"/>
<circle cx="514.5" cy="973.3" r="3.05"/>
<circle cx="532.4" cy="970.3" r="3.05"/>
<circle cx="537.2" cy="968.5" r="3.05"/>
<circle cx="524.1" cy="978.6" r="3.05"/>
<circle cx="511.4" cy="986.5" r="3.05"/>
<circle cx="521.5" cy="986.9" r="3.05"/>
<circle cx="513.1" cy="993.9" r="3.05"/>
<circle cx="518.8" cy="997.4" r="3.05"/>
<circle cx="508.9" cy="1008.4" r="3.05"/>
</g>
<g fill="none" stroke="#9a1b5e" stroke-width="5" stroke-linecap="butt" stroke-linejoin="round">
<path d="M221.08 550.88 L221.14 547.18 L221.20 543.49 L221.26 539.80 L221.32 536.12 L221.38 532.44 L221.44 528.77 L221.50 525.10 L221.57 521.44 L221.63 517.78 L221.71 514.12 L221.78 510.47 L221.86 506.82 L221.94 503.17 L222.03 499.53 L222.13 495.89 L222.23 492.26 L222.34 488.62 L222.45 484.99 L222.57 481.36 L222.70 477.73 L222.84 474.11 L222.99 470.49 L223.14 466.87 L223.31 463.25 L223.48 459.63 L223.67 456.01 L223.87 452.40 L224.08 448.78 L224.30 445.17 L224.53 441.56 L224.78 437.95 L225.04 434.34 L225.31 430.72 L225.60 427.11 L225.90 423.50 L226.22 419.89 L226.55 416.28 L226.90 412.67 L227.27 409.06 L227.65 405.45 L228.05 401.83 L228.47 398.22 L228.91 394.60 L229.36 390.98 L229.84 387.37 L230.33 383.75 L230.85 380.12 L231.38 376.50 L231.94 372.87 L232.52 369.25 L233.12 365.62 L233.74 361.98 L234.39 358.35 L235.06 354.71 L235.76 351.08 L236.48 347.45 L237.22 343.82 L238.00 340.19 L238.80 336.57 L239.62 332.96 L240.48 329.35 L241.37 325.75 L242.28 322.15 L243.23 318.57 L244.21 315.00 L245.22 311.44 L246.27 307.89 L247.34 304.36 L248.45 300.84 L249.60 297.33 L250.78 293.84 L252.00 290.37 L253.25 286.92 L254.55 283.49 L255.88 280.08 L257.24 276.69 L258.65 273.32 L260.10 269.97 L261.59 266.65 L263.12 263.36 L264.70 260.09 L266.31 256.85 L267.98 253.64 L269.68 250.46 L271.43 247.30 L273.23 244.18 L275.07 241.10 L276.96 238.04 L278.89 235.02 L280.88 232.03 L282.91 229.08 L285.00 226.17 L287.13 223.30 L289.32 220.47 L291.56 217.67 L293.84 214.92 L296.18 212.21 L298.57 209.53 L301.01 206.90 L303.49 204.31 L306.02 201.76 L308.60 199.25 L311.22 196.78 L313.88 194.36 L316.59 191.97 L319.33 189.62 L322.12 187.31 L324.94 185.04 L327.80 182.82 L330.70 180.63 L333.63 178.48 L336.60 176.38 L339.60 174.31 L342.64 172.28 L345.70 170.30 L348.80 168.35 L351.92 166.44 L355.07 164.58 L358.25 162.75 L361.45 160.96 L364.68 159.22 L367.94 157.51 L371.21 155.84 L374.51 154.21 L377.82 152.62 L381.16 151.07 L384.52 149.56 L387.89 148.09 L391.28 146.66 L394.68 145.27 L398.10 143.92 L401.53 142.60 L404.97 141.33 L408.42 140.10 L411.88 138.90 L415.35 137.74 L418.84 136.62 L422.33 135.54 L425.83 134.49 L429.33 133.48 L432.85 132.50 L436.38 131.56 L439.91 130.65 L443.45 129.77 L447.00 128.92 L450.55 128.10 L454.11 127.31 L457.68 126.55 L461.25 125.82 L464.83 125.11 L468.42 124.43 L472.01 123.78 L475.61 123.15 L479.21 122.55 L482.82 121.96 L486.43 121.40 L490.04 120.87 L493.66 120.35 L497.28 119.85 L500.91 119.37 L504.54 118.91 L508.17 118.47 L511.81 118.05 L515.45 117.64 L519.09 117.24 L522.73 116.86 L526.37 116.49 L530.02 116.14 L533.66 115.80 L537.31 115.47 L540.96 115.15 L544.61 114.84 L548.26 114.53 L551.90 114.24 L555.55 113.95 L559.20 113.67 L562.85 113.40 L566.49 113.13 L570.14 112.86 L573.78 112.60 L577.42 112.34 L581.06 112.08 L584.70 111.82 L588.33 111.56 L591.96 111.30 L595.59 111.04 L599.21 110.78 L602.83 110.51 L606.45 110.24 L610.06 109.97 L613.67 109.69 L617.27 109.40 L620.87 109.11 L624.47 108.81 L628.05 108.50 L631.64 108.18 L635.21 107.85 L638.78 107.51 L642.35 107.15"/>
<path d="M871.20 547.83 L873.68 546.02 L876.16 544.22 L878.64 542.44 L881.13 540.67 L883.61 538.91 L886.09 537.16 L888.57 535.42 L891.05 533.69 L893.53 531.98 L896.01 530.27 L898.50 528.57 L900.98 526.88 L903.46 525.19 L905.94 523.51 L908.42 521.84 L910.90 520.18 L913.38 518.52 L915.87 516.86 L918.35 515.21 L920.83 513.56 L923.31 511.92 L925.79 510.28 L928.27 508.64 L930.75 507.00 L933.24 505.37 L935.72 503.73 L938.20 502.10 L940.68 500.46 L943.16 498.83 L945.64 497.19 L948.12 495.55 L950.61 493.91 L953.09 492.26 L955.57 490.62 L958.05 488.96 L960.53 487.31 L963.01 485.64 L965.49 483.98 L967.97 482.30 L970.46 480.62 L972.94 478.93 L975.42 477.24 L977.90 475.53 L980.38 473.82 L982.86 472.10 L985.34 470.37 L987.83 468.62 L990.31 466.87 L992.79 465.11 L995.27 463.33 L997.75 461.54 L1000.23 459.74 L1002.71 457.92 L1005.20 456.09 L1007.68 454.25 L1010.16 452.39 L1012.64 450.51 L1015.12 448.62 L1017.60 446.71 L1020.08 444.78 L1022.57 442.84 L1025.05 440.87 L1027.53 438.89 L1030.01 436.88 L1032.49 434.85 L1034.97 432.79 L1037.45 430.71 L1039.94 428.61 L1042.42 426.47 L1044.90 424.31 L1047.38 422.13 L1049.86 419.91 L1052.34 417.66 L1054.82 415.38 L1057.31 413.07 L1059.79 410.72 L1062.27 408.34 L1064.75 405.93 L1067.23 403.48 L1069.71 400.99 L1072.19 398.47 L1074.68 395.90 L1077.16 393.30 L1079.64 390.65 L1082.12 387.96 L1084.60 385.23 L1087.08 382.46 L1089.56 379.64 L1092.05 376.77 L1094.53 373.86 L1097.01 370.90 L1099.49 367.90 L1101.97 364.84 L1104.45 361.73 L1106.93 358.57 L1109.42 355.36 L1111.90 352.10 L1114.38 348.78 L1116.86 345.41 L1119.34 341.98 L1121.82 338.50 L1124.30 334.97 L1126.78 331.40 L1129.27 327.78 L1131.75 324.13 L1134.23 320.44 L1136.71 316.71 L1139.19 312.95 L1141.67 309.16 L1144.15 305.35 L1146.64 301.52 L1149.12 297.66 L1151.60 293.79 L1154.08 289.90 L1156.56 286.01 L1159.04 282.10 L1161.52 278.19 L1164.01 274.28 L1166.49 270.37 L1168.97 266.45 L1171.45 262.55 L1173.93 258.66 L1176.41 254.77 L1178.89 250.90 L1181.38 247.05 L1183.86 243.23 L1186.34 239.43 L1188.82 235.66 L1191.30 231.92 L1193.78 228.22 L1196.26 224.57 L1198.75 220.96 L1201.23 217.40 L1203.71 213.88 L1206.19 210.42 L1208.67 207.01 L1211.15 203.65 L1213.63 200.35 L1216.12 197.11 L1218.60 193.93 L1221.08 190.82 L1223.56 187.76 L1226.04 184.77 L1228.52 181.85 L1231.00 178.99 L1233.49 176.19 L1235.97 173.45 L1238.45 170.77 L1240.93 168.15 L1243.41 165.60 L1245.89 163.10 L1248.37 160.66 L1250.86 158.28 L1253.34 155.96 L1255.82 153.70 L1258.30 151.49 L1260.78 149.35 L1263.26 147.25 L1265.74 145.22 L1268.23 143.23 L1270.71 141.31 L1273.19 139.43 L1275.67 137.61 L1278.15 135.85 L1280.63 134.13 L1283.11 132.47 L1285.59 130.86 L1288.08 129.30 L1290.56 127.80 L1293.04 126.34 L1295.52 124.93 L1298.00 123.57 L1300.48 122.26 L1302.96 121.00 L1305.45 119.78 L1307.93 118.62 L1310.41 117.49 L1312.89 116.42 L1315.37 115.39 L1317.85 114.40 L1320.33 113.46 L1322.82 112.57 L1325.30 111.72 L1327.78 110.91 L1330.26 110.14 L1332.74 109.42 L1335.22 108.73 L1337.70 108.09 L1340.19 107.49 L1342.67 106.93 L1345.15 106.41 L1347.63 105.92 L1350.11 105.48 L1352.59 105.07 L1355.07 104.70 L1357.56 104.37 L1360.04 104.07 L1362.52 103.81 L1365.00 103.59"/>
<path d="M175.00 1051.24 L177.29 1051.21 L179.57 1051.19 L181.86 1051.17 L184.15 1051.15 L186.43 1051.13 L188.72 1051.11 L191.01 1051.10 L193.30 1051.08 L195.58 1051.07 L197.87 1051.05 L200.16 1051.04 L202.44 1051.03 L204.73 1051.02 L207.02 1051.01 L209.30 1050.99 L211.59 1050.98 L213.88 1050.97 L216.16 1050.96 L218.45 1050.95 L220.74 1050.94 L223.03 1050.93 L225.31 1050.92 L227.60 1050.91 L229.89 1050.90 L232.17 1050.88 L234.46 1050.87 L236.75 1050.85 L239.03 1050.84 L241.32 1050.82 L243.61 1050.81 L245.89 1050.79 L248.18 1050.77 L250.47 1050.75 L252.76 1050.72 L255.04 1050.70 L257.33 1050.67 L259.62 1050.64 L261.90 1050.61 L264.19 1050.58 L266.48 1050.55 L268.76 1050.51 L271.05 1050.47 L273.34 1050.43 L275.63 1050.39 L277.91 1050.34 L280.20 1050.29 L282.49 1050.24 L284.77 1050.19 L287.06 1050.13 L289.35 1050.07 L291.63 1050.01 L293.92 1049.94 L296.21 1049.87 L298.49 1049.80 L300.78 1049.72 L303.07 1049.64 L305.36 1049.56 L307.64 1049.47 L309.93 1049.38 L312.22 1049.28 L314.50 1049.18 L316.79 1049.08 L319.08 1048.97 L321.36 1048.86 L323.65 1048.74 L325.94 1048.62 L328.22 1048.49 L330.51 1048.36 L332.80 1048.23 L335.09 1048.09 L337.37 1047.94 L339.66 1047.79 L341.95 1047.63 L344.23 1047.47 L346.52 1047.30 L348.81 1047.13 L351.09 1046.95 L353.38 1046.77 L355.67 1046.58 L357.95 1046.38 L360.24 1046.18 L362.53 1045.97 L364.82 1045.76 L367.10 1045.54 L369.39 1045.31 L371.68 1045.08 L373.96 1044.83 L376.25 1044.58 L378.54 1044.32 L380.82 1044.05 L383.11 1043.76 L385.40 1043.47 L387.68 1043.16 L389.97 1042.83 L392.26 1042.49 L394.55 1042.13 L396.83 1041.75 L399.12 1041.36 L401.41 1040.94 L403.69 1040.51 L405.98 1040.05 L408.27 1039.57 L410.55 1039.07 L412.84 1038.54 L415.13 1037.98 L417.42 1037.40 L419.70 1036.79 L421.99 1036.16 L424.28 1035.49 L426.56 1034.80 L428.85 1034.07 L431.14 1033.31 L433.42 1032.51 L435.71 1031.69 L438.00 1030.82 L440.28 1029.92 L442.57 1028.99 L444.86 1028.01 L447.15 1027.00 L449.43 1025.94 L451.72 1024.85 L454.01 1023.71 L456.29 1022.53 L458.58 1021.31 L460.87 1020.05 L463.15 1018.74 L465.44 1017.39 L467.73 1016.00 L470.01 1014.56 L472.30 1013.08 L474.59 1011.55 L476.88 1009.98 L479.16 1008.36 L481.45 1006.70 L483.74 1004.99 L486.02 1003.23 L488.31 1001.42 L490.60 999.57 L492.88 997.66 L495.17 995.69 L497.46 993.68 L499.74 991.61 L502.03 989.48 L504.32 987.29 L506.61 985.05 L508.89 982.75 L511.18 980.38 L513.47 977.96 L515.75 975.47 L518.04 972.91 L520.33 970.30 L522.61 967.62 L524.90 964.88 L527.19 962.08 L529.47 959.22 L531.76 956.31 L534.05 953.35 L536.34 950.33 L538.62 947.27 L540.91 944.15 L543.20 940.99 L545.48 937.78 L547.77 934.53 L550.06 931.24 L552.34 927.91 L554.63 924.54 L556.92 921.13 L559.21 917.69 L561.49 914.21 L563.78 910.70 L566.07 907.17 L568.35 903.60 L570.64 900.01 L572.93 896.39 L575.21 892.75 L577.50 889.09 L579.79 885.41 L582.07 881.71 L584.36 878.00 L586.65 874.27 L588.94 870.53 L591.22 866.78 L593.51 863.02 L595.80 859.25 L598.08 855.47 L600.37 851.69 L602.66 847.91 L604.94 844.13 L607.23 840.34 L609.52 836.56 L611.80 832.79 L614.09 829.02 L616.38 825.26 L618.67 821.51 L620.95 817.77 L623.24 814.04 L625.53 810.33 L627.81 806.63 L630.10 802.95"/>
</g>
<path d="M114.7 1051.4H672" stroke="#1e1a1a" stroke-width="4.5" stroke-dasharray="10.3 10.82" stroke-dashoffset="15.9" fill="none"/>
<path d="M349.28 1277.40L660.78 745.29" stroke="#009a98" stroke-width="4.6" stroke-dasharray="10.3 10.8" stroke-dashoffset="5.62" fill="none"/>
<path d="M114.7 36.2V589.7H667.6M130.9 589.7v7M151.0 589.7v7M168.7 589.7v7M184.5 589.7v13.5M288.6 589.7v7M349.5 589.7v7M392.8 589.7v7M426.3 589.7v7M453.7 589.7v7M476.8 589.7v7M496.9 589.7v7M514.6 589.7v7M530.4 589.7v13.5M114.7 578.3h-7.5M114.7 528.7h-7.5M114.7 493.6h-7.5M114.7 466.3h-7.5M114.7 444.1h-7.5M114.7 425.3h-7.5M114.7 409.0h-7.5M114.7 394.6h-7.5M114.7 381.7h-13.5M114.7 297.1h-7.5M114.7 247.5h-7.5M114.7 212.4h-7.5M114.7 185.1h-7.5M114.7 162.9h-7.5M114.7 144.1h-7.5M114.7 127.8h-7.5M114.7 113.4h-7.5M114.7 100.5h-13.5" fill="none" stroke="#000" stroke-width="2.7" stroke-linecap="butt" stroke-linejoin="round"/>
<path d="M820.5 30.7V586.6H1377.0M825.8 586.6v7M836.9 586.6v7M846.0 586.6v7M853.7 586.6v7M860.4 586.6v7M866.2 586.6v7M871.5 586.6v13.5M906.1 586.6v7M926.3 586.6v7M940.7 586.6v7M951.8 586.6v7M960.9 586.6v7M968.6 586.6v7M975.3 586.6v7M981.1 586.6v7M986.4 586.6v13.5M1021.0 586.6v7M1041.2 586.6v7M1055.6 586.6v7M1066.7 586.6v7M1075.8 586.6v7M1083.5 586.6v7M1090.2 586.6v7M1096.0 586.6v7M1101.3 586.6v13.5M1135.9 586.6v7M1156.1 586.6v7M1170.5 586.6v7M1181.6 586.6v7M1190.7 586.6v7M1198.4 586.6v7M1205.1 586.6v7M1210.9 586.6v7M1216.2 586.6v13.5M1250.8 586.6v7M1271.0 586.6v7M1285.4 586.6v7M1296.5 586.6v7M1305.6 586.6v7M1313.3 586.6v7M1320.0 586.6v7M1325.8 586.6v7M1331.1 586.6v13.5M1365.7 586.6v7M820.5 576.1h-7.5M820.5 526.3h-7.5M820.5 490.9h-7.5M820.5 463.5h-7.5M820.5 441.1h-7.5M820.5 422.1h-7.5M820.5 405.7h-7.5M820.5 391.2h-7.5M820.5 378.3h-13.5M820.5 293.1h-7.5M820.5 243.3h-7.5M820.5 207.9h-7.5M820.5 180.5h-7.5M820.5 158.1h-7.5M820.5 139.1h-7.5M820.5 122.7h-7.5M820.5 108.2h-7.5M820.5 95.3h-13.5" fill="none" stroke="#000" stroke-width="2.7" stroke-linecap="butt" stroke-linejoin="round"/>
<path d="M114.7 725.0V1282.2H672.0M120.0 1282.2v7M133.2 1282.2v7M143.4 1282.2v7M151.8 1282.2v7M158.9 1282.2v7M165.0 1282.2v7M170.4 1282.2v7M175.2 1282.2v13.5M207.0 1282.2v7M225.5 1282.2v7M238.7 1282.2v7M248.9 1282.2v7M257.3 1282.2v7M264.4 1282.2v7M270.5 1282.2v7M275.9 1282.2v7M280.7 1282.2v13.5M312.5 1282.2v7M331.0 1282.2v7M344.2 1282.2v7M354.4 1282.2v7M362.8 1282.2v7M369.9 1282.2v7M376.0 1282.2v7M381.4 1282.2v7M386.2 1282.2v13.5M418.0 1282.2v7M436.5 1282.2v7M449.7 1282.2v7M459.9 1282.2v7M468.3 1282.2v7M475.4 1282.2v7M481.5 1282.2v7M486.9 1282.2v7M491.7 1282.2v13.5M523.5 1282.2v7M542.0 1282.2v7M555.2 1282.2v7M565.4 1282.2v7M573.8 1282.2v7M580.9 1282.2v7M587.0 1282.2v7M592.4 1282.2v7M597.2 1282.2v13.5M629.0 1282.2v7M647.5 1282.2v7M660.7 1282.2v7M670.9 1282.2v7M114.7 1277.4h-13.5M114.7 1215.8h-7.5M114.7 1179.8h-7.5M114.7 1154.3h-7.5M114.7 1134.5h-7.5M114.7 1118.3h-7.5M114.7 1104.6h-7.5M114.7 1092.7h-7.5M114.7 1082.3h-7.5M114.7 1072.9h-13.5M114.7 1011.3h-7.5M114.7 975.3h-7.5M114.7 949.8h-7.5M114.7 930.0h-7.5M114.7 913.8h-7.5M114.7 900.1h-7.5M114.7 888.2h-7.5M114.7 877.8h-7.5M114.7 868.4h-13.5M114.7 806.8h-7.5M114.7 770.8h-7.5M114.7 745.3h-7.5M114.7 725.5h-7.5" fill="none" stroke="#000" stroke-width="2.7" stroke-linecap="butt" stroke-linejoin="round"/>
<defs><path id="g0" d="M763 0H583V1147Q518 1085 412 1023Q306 961 222 930V1104Q373 1175 486 1276Q599 1377 646 1472H763Z"/><path id="g1" d="M1059 705Q1059 352 934.5 166.0Q810 -20 567 -20Q324 -20 202.0 165.0Q80 350 80 705Q80 1068 198.5 1249.0Q317 1430 573 1430Q822 1430 940.5 1247.0Q1059 1064 1059 705ZM876 705Q876 1010 805.5 1147.0Q735 1284 573 1284Q407 1284 334.5 1149.0Q262 1014 262 705Q262 405 335.5 266.0Q409 127 569 127Q728 127 802.0 269.0Q876 411 876 705Z"/><path id="g2" d="M91 464V624H591V464Z"/><path id="g3" d="M103 0V127Q154 244 227.5 333.5Q301 423 382.0 495.5Q463 568 542.5 630.0Q622 692 686.0 754.0Q750 816 789.5 884.0Q829 952 829 1038Q829 1154 761.0 1218.0Q693 1282 572 1282Q457 1282 382.5 1219.5Q308 1157 295 1044L111 1061Q131 1230 254.5 1330.0Q378 1430 572 1430Q785 1430 899.5 1329.5Q1014 1229 1014 1044Q1014 962 976.5 881.0Q939 800 865.0 719.0Q791 638 582 468Q467 374 399.0 298.5Q331 223 301 153H1036V0Z"/><path id="g4" d="M187 0V219H382V0Z"/><path id="g5" d="M1036 1263Q820 933 731.0 746.0Q642 559 597.5 377.0Q553 195 553 0H365Q365 270 479.5 568.5Q594 867 862 1256H105V1409H1036Z"/><path id="g6" d="M768 0V686Q768 843 725.0 903.0Q682 963 570 963Q455 963 388.0 875.0Q321 787 321 627V0H142V851Q142 1040 136 1082H306Q307 1077 308.0 1055.0Q309 1033 310.5 1004.5Q312 976 314 897H317Q375 1012 450.0 1057.0Q525 1102 633 1102Q756 1102 827.5 1053.0Q899 1004 927 897H930Q986 1006 1065.5 1054.0Q1145 1102 1258 1102Q1422 1102 1496.5 1013.0Q1571 924 1571 721V0H1393V686Q1393 843 1350.0 903.0Q1307 963 1195 963Q1077 963 1011.5 875.5Q946 788 946 627V0Z"/><path id="g7" d="M950 299Q950 146 834.5 63.0Q719 -20 511 -20Q309 -20 199.5 46.5Q90 113 57 254L216 285Q239 198 311.0 157.5Q383 117 511 117Q648 117 711.5 159.0Q775 201 775 285Q775 349 731.0 389.0Q687 429 589 455L460 489Q305 529 239.5 567.5Q174 606 137.0 661.0Q100 716 100 796Q100 944 205.5 1021.5Q311 1099 513 1099Q692 1099 797.5 1036.0Q903 973 931 834L769 814Q754 886 688.5 924.5Q623 963 513 963Q391 963 333.0 926.0Q275 889 275 814Q275 768 299.0 738.0Q323 708 370.0 687.0Q417 666 568 629Q711 593 774.0 562.5Q837 532 873.5 495.0Q910 458 930.0 409.5Q950 361 950 299Z"/></defs><g fill="#000"><use href="#g0" transform="translate(47.44 113.30) scale(0.01514 -0.01514)"/><use href="#g1" transform="translate(64.68 113.30) scale(0.01514 -0.01567)"/><use href="#g1" transform="translate(81.92 103.40) scale(0.00928 -0.00960)"/><use href="#g0" transform="translate(47.54 389.70) scale(0.01514 -0.01514)"/><use href="#g1" transform="translate(64.78 389.70) scale(0.01514 -0.01567)"/><use href="#g2" transform="translate(82.02 380.30) scale(0.01132 -0.00960)"/><use href="#g0" transform="translate(89.74 379.80) scale(0.00928 -0.00928)"/><use href="#g0" transform="translate(164.24 631.90) scale(0.01514 -0.01514)"/><use href="#g1" transform="translate(181.48 631.90) scale(0.01514 -0.01567)"/><use href="#g0" transform="translate(198.72 622.00) scale(0.00928 -0.00928)"/><use href="#g0" transform="translate(508.54 632.00) scale(0.01514 -0.01514)"/><use href="#g1" transform="translate(525.78 632.00) scale(0.01514 -0.01567)"/><use href="#g3" transform="translate(543.02 622.10) scale(0.00928 -0.00960)"/><use href="#g0" transform="translate(752.74 105.70) scale(0.01514 -0.01514)"/><use href="#g1" transform="translate(769.98 105.70) scale(0.01514 -0.01567)"/><use href="#g1" transform="translate(787.22 95.80) scale(0.00928 -0.00960)"/><use href="#g0" transform="translate(752.74 384.70) scale(0.01514 -0.01514)"/><use href="#g1" transform="translate(769.98 384.70) scale(0.01514 -0.01567)"/><use href="#g2" transform="translate(787.22 375.30) scale(0.01132 -0.00960)"/><use href="#g0" transform="translate(794.94 374.80) scale(0.00928 -0.00928)"/><use href="#g0" transform="translate(847.74 630.20) scale(0.01514 -0.01514)"/><use href="#g1" transform="translate(864.98 630.20) scale(0.01514 -0.01567)"/><use href="#g2" transform="translate(882.22 620.80) scale(0.01132 -0.00960)"/><use href="#g3" transform="translate(889.94 620.30) scale(0.00928 -0.00960)"/><use href="#g0" transform="translate(964.24 630.20) scale(0.01514 -0.01514)"/><use href="#g1" transform="translate(981.48 630.20) scale(0.01514 -0.01567)"/><use href="#g2" transform="translate(998.72 620.80) scale(0.01132 -0.00960)"/><use href="#g0" transform="translate(1006.44 620.30) scale(0.00928 -0.00928)"/><use href="#g0" transform="translate(1080.24 630.20) scale(0.01514 -0.01514)"/><use href="#g1" transform="translate(1097.48 630.20) scale(0.01514 -0.01567)"/><use href="#g1" transform="translate(1114.72 620.30) scale(0.00928 -0.00960)"/><use href="#g0" transform="translate(1194.24 630.20) scale(0.01514 -0.01514)"/><use href="#g1" transform="translate(1211.48 630.20) scale(0.01514 -0.01567)"/><use href="#g0" transform="translate(1228.72 620.30) scale(0.00928 -0.00928)"/><use href="#g0" transform="translate(1308.94 629.90) scale(0.01514 -0.01514)"/><use href="#g1" transform="translate(1326.18 629.90) scale(0.01514 -0.01567)"/><use href="#g3" transform="translate(1343.42 620.00) scale(0.00928 -0.00960)"/><use href="#g0" transform="translate(50.64 877.80) scale(0.01514 -0.01514)"/><use href="#g1" transform="translate(67.88 877.80) scale(0.01514 -0.01567)"/><use href="#g3" transform="translate(85.12 867.90) scale(0.00928 -0.00960)"/><use href="#g0" transform="translate(50.54 1080.90) scale(0.01514 -0.01514)"/><use href="#g1" transform="translate(67.78 1080.90) scale(0.01514 -0.01567)"/><use href="#g0" transform="translate(85.02 1071.00) scale(0.00928 -0.00928)"/><use href="#g0" transform="translate(50.64 1290.80) scale(0.01514 -0.01514)"/><use href="#g1" transform="translate(67.88 1290.80) scale(0.01514 -0.01567)"/><use href="#g1" transform="translate(85.12 1280.90) scale(0.00928 -0.00960)"/><use href="#g0" transform="translate(151.04 1322.60) scale(0.01514 -0.01514)"/><use href="#g1" transform="translate(168.28 1322.60) scale(0.01514 -0.01567)"/><use href="#g2" transform="translate(185.52 1313.20) scale(0.01132 -0.00960)"/><use href="#g3" transform="translate(193.24 1312.70) scale(0.00928 -0.00960)"/><use href="#g0" transform="translate(254.64 1322.60) scale(0.01514 -0.01514)"/><use href="#g1" transform="translate(271.88 1322.60) scale(0.01514 -0.01567)"/><use href="#g2" transform="translate(289.12 1313.20) scale(0.01132 -0.00960)"/><use href="#g0" transform="translate(296.84 1312.70) scale(0.00928 -0.00928)"/><use href="#g0" transform="translate(359.44 1322.60) scale(0.01514 -0.01514)"/><use href="#g1" transform="translate(376.68 1322.60) scale(0.01514 -0.01567)"/><use href="#g1" transform="translate(393.92 1312.70) scale(0.00928 -0.00960)"/><use href="#g0" transform="translate(465.64 1322.60) scale(0.01514 -0.01514)"/><use href="#g1" transform="translate(482.88 1322.60) scale(0.01514 -0.01567)"/><use href="#g0" transform="translate(500.12 1312.70) scale(0.00928 -0.00928)"/><use href="#g0" transform="translate(572.54 1322.70) scale(0.01514 -0.01514)"/><use href="#g1" transform="translate(589.78 1322.70) scale(0.01514 -0.01567)"/><use href="#g3" transform="translate(607.02 1312.80) scale(0.00928 -0.00960)"/><rect x="525.3" y="1032.8" width="109.4" height="35.6" fill="#fff"/><use href="#g0" transform="translate(527.70 1059.60) scale(0.01538 -0.01538)"/><use href="#g3" transform="translate(545.22 1059.60) scale(0.01538 -0.01592)"/><use href="#g4" transform="translate(562.74 1059.60) scale(0.01538 -0.01592)"/><use href="#g5" transform="translate(571.49 1059.60) scale(0.01538 -0.01592)"/><use href="#g6" transform="translate(589.01 1059.60) scale(0.01538 -0.01592)"/><use href="#g7" transform="translate(615.25 1059.60) scale(0.01538 -0.01592)"/><g transform="translate(380.09 1241.84) rotate(-59.65)"><rect x="-5.4" y="-25.0" width="120" height="33.4" fill="#fff"/><text x="0" y="0" font-size="31.35" transform="scale(1 1.035)">Poisson</text></g><rect x="797.5" y="789" width="3.8" height="3.8" fill="#000"/><rect x="1407.5" y="865.4" width="3.8" height="3.8" fill="#000"/><text transform="translate(17.80 46.00) scale(1 1.035)" font-size="56" font-family="Liberation Sans" font-style="italic">A.</text><text transform="translate(720.00 46.00) scale(1 1.035)" font-size="56" font-family="Liberation Sans" font-style="italic">B.</text><text transform="translate(16.40 757.00) scale(1 1.035)" font-size="56" font-family="Liberation Sans" font-style="italic">C.</text><text transform="translate(187.40 676.30) scale(1 1.0)" font-size="48" font-family="Liberation Sans">Mean ISI (msec)</text><text transform="translate(46.00 550.00) rotate(-90) scale(1 1.0)" font-size="47.55" font-family="Liberation Sans">Coefficient of Variation</text><text transform="translate(748.00 551.20) rotate(-90) scale(1 1.0)" font-size="47.55" font-family="Liberation Sans">Coefficient of Variation</text><text transform="translate(41.10 1170.00) rotate(-90) scale(1 1.0)" font-size="47.85" font-family="Liberation Sans">Mean ISI (msec)</text><text transform="translate(1042.20 672.00) scale(1 1.0)" font-size="48" font-family="Liberation Sans">(msec)</text><text transform="translate(321.80 1353.70) scale(1 1.0)" font-size="48" font-family="Liberation Sans">(msec)</text><path d="M228 505Q300 330 520 272C800 268 1050 300 1160 228Q1185 250 1165 285Q1120 390 900 405L800 410L795 1000Q800 1135 900 1140Q1030 1120 1050 925Q1080 870 1100 925Q1090 1150 950 1220Q820 1265 700 1180Q600 1100 595 950L590 395Q420 380 335 435Q292 472 272 520Q252 548 228 505Z" transform="translate(998.00 640.00) scale(0.02630 0.02630)"/><path d="M228 505Q300 330 520 272C800 268 1050 300 1160 228Q1185 250 1165 285Q1120 390 900 405L800 410L795 1000Q800 1135 900 1140Q1030 1120 1050 925Q1080 870 1100 925Q1090 1150 950 1220Q820 1265 700 1180Q600 1100 595 950L590 395Q420 380 335 435Q292 472 272 520Q252 548 228 505Z" transform="translate(276.90 1321.70) scale(0.02511 0.02630)"/></g>
</svg></body></html>
